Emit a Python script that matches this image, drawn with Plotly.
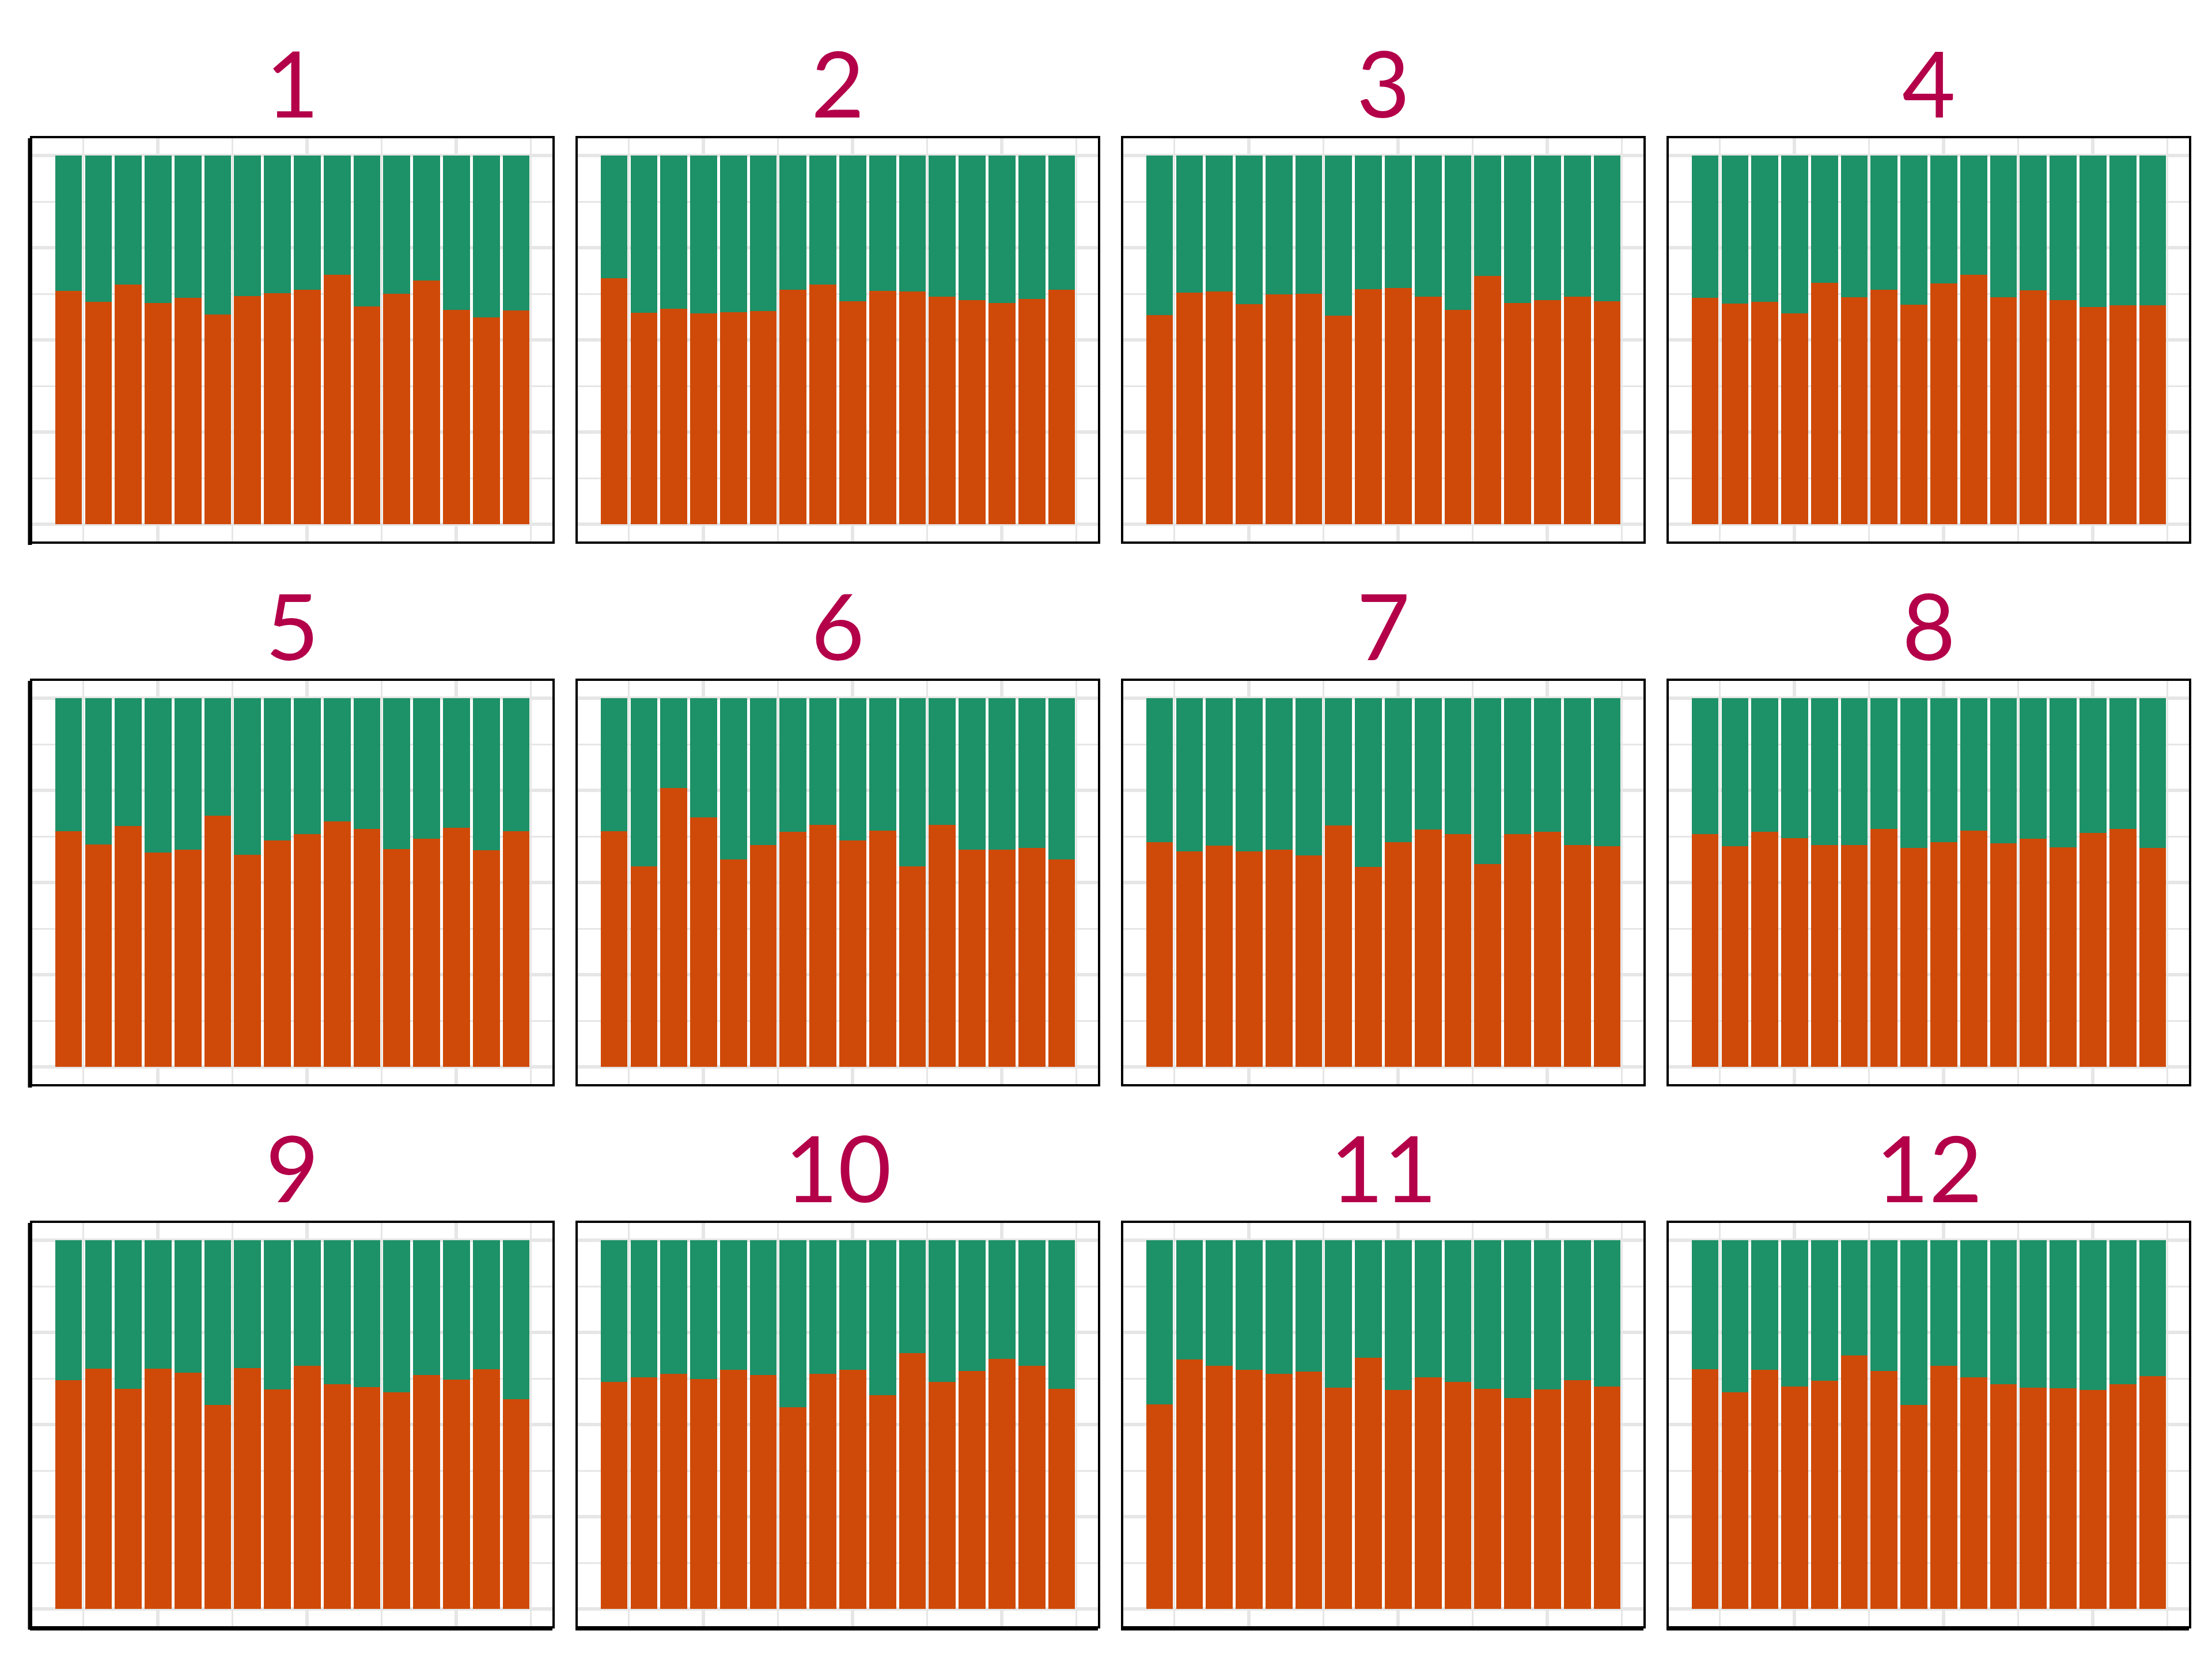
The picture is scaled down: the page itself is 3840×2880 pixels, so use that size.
import plotly.graph_objects as go

# ---------------- data ----------------
years = list(range(2002, 2018))
panel_titles = ["1", "2", "3", "4", "5", "6", "7", "8", "9", "10", "11", "12"]

share_1 = [0.633, 0.603, 0.650, 0.600, 0.614, 0.569, 0.619, 0.626, 0.636, 0.676, 0.591, 0.625, 0.661, 0.581, 0.561, 0.579]
share_2 = [0.667, 0.573, 0.585, 0.572, 0.575, 0.578, 0.636, 0.650, 0.604, 0.633, 0.632, 0.617, 0.608, 0.600, 0.611, 0.636]
share_3 = [0.567, 0.628, 0.632, 0.597, 0.623, 0.625, 0.566, 0.638, 0.641, 0.617, 0.582, 0.673, 0.600, 0.608, 0.617, 0.604]
share_4 = [0.614, 0.598, 0.603, 0.572, 0.654, 0.616, 0.636, 0.595, 0.653, 0.676, 0.616, 0.635, 0.608, 0.589, 0.594, 0.594]
share_5 = [0.639, 0.603, 0.653, 0.581, 0.589, 0.682, 0.575, 0.614, 0.631, 0.666, 0.645, 0.591, 0.619, 0.648, 0.588, 0.639]
share_6 = [0.639, 0.544, 0.757, 0.676, 0.563, 0.601, 0.638, 0.656, 0.614, 0.641, 0.544, 0.656, 0.589, 0.589, 0.594, 0.563]
share_7 = [0.609, 0.584, 0.600, 0.584, 0.589, 0.573, 0.654, 0.542, 0.609, 0.644, 0.631, 0.550, 0.631, 0.638, 0.601, 0.598]
share_8 = [0.632, 0.598, 0.638, 0.620, 0.601, 0.601, 0.645, 0.594, 0.609, 0.641, 0.606, 0.619, 0.595, 0.634, 0.645, 0.594]
share_9 = [0.621, 0.652, 0.597, 0.652, 0.641, 0.553, 0.653, 0.596, 0.659, 0.610, 0.602, 0.587, 0.634, 0.622, 0.650, 0.569]
share_10 = [0.615, 0.628, 0.637, 0.624, 0.649, 0.635, 0.547, 0.638, 0.649, 0.580, 0.693, 0.615, 0.646, 0.678, 0.659, 0.597]
share_11 = [0.555, 0.677, 0.659, 0.649, 0.637, 0.644, 0.600, 0.681, 0.594, 0.628, 0.616, 0.597, 0.572, 0.596, 0.621, 0.603]
share_12 = [0.650, 0.588, 0.649, 0.603, 0.619, 0.687, 0.646, 0.553, 0.659, 0.628, 0.609, 0.600, 0.599, 0.593, 0.610, 0.632]

panel_shares = [share_1, share_2, share_3, share_4, share_5, share_6,
                share_7, share_8, share_9, share_10, share_11, share_12]

# ---------------- style ----------------
W, H = 3840, 2880
ORANGE = "#CF4A08"
GREEN = "#1D9167"
TITLE_COLOR = "#B30049"
GRID = "#E6E6E6"

INSET = 2  # px, borders are drawn outside the domain in plotly
col_left = [54, 1001, 1948, 2895]
panel_w = 907
row_top = [238, 1180, 2121]
panel_h = 704

px_per_x = panel_w / (2018.255 - 2000.745)
px_per_y = panel_h / 1.1
x_range = [2000.745 + INSET / px_per_x, 2018.255 - INSET / px_per_x]
y_range = [-0.05 + INSET / px_per_y, 1.05 - INSET / px_per_y]

fig = go.Figure()

for i, shares in enumerate(panel_shares):
    r, c = divmod(i, 4)
    ax = "" if i == 0 else str(i + 1)
    xa, ya = "x" + ax, "y" + ax
    rest = [1 - s for s in shares]
    fig.add_trace(go.Bar(x=years, y=shares, width=0.9, marker=dict(color=ORANGE, line=dict(width=0)),
                         xaxis=xa, yaxis=ya, showlegend=False, hoverinfo="skip"))
    fig.add_trace(go.Bar(x=years, y=rest, width=0.9, marker=dict(color=GREEN, line=dict(width=0)),
                         xaxis=xa, yaxis=ya, showlegend=False, hoverinfo="skip"))

    x0 = (col_left[c] + INSET) / W
    x1 = (col_left[c] + panel_w - INSET) / W
    y1 = 1 - (row_top[r] + INSET) / H
    y0 = 1 - (row_top[r] + panel_h - INSET) / H

    common = dict(showline=True, linecolor="black", linewidth=3.5, mirror=True,
                  showticklabels=False, ticks="", zeroline=False,
                  showgrid=True, gridcolor=GRID, gridwidth=6, fixedrange=True)
    fig.update_layout(**{
        "xaxis" + ax: dict(domain=[x0, x1], range=x_range, anchor=ya,
                           tick0=2005, dtick=5,
                           minor=dict(tick0=2002.5, dtick=5, showgrid=True, gridcolor=GRID, gridwidth=3, ticks=""),
                           **common),
        "yaxis" + ax: dict(domain=[y0, y1], range=y_range, anchor=xa,
                           tick0=0, dtick=0.25,
                           minor=dict(tick0=0, dtick=0.125, showgrid=True, gridcolor=GRID, gridwidth=3, ticks=""),
                           **common),
    })

    # panel title
    fig.add_annotation(text=panel_titles[i], xref="paper", yref="paper",
                       x=(x0 + x1) / 2, y=1 - (row_top[r] - 96) / H,
                       xanchor="center", yanchor="middle", showarrow=False,
                       font=dict(family="Lato", size=160, color=TITLE_COLOR))

    # heavier axis lines on the outer edges
    if c == 0:
        fig.add_shape(type="line", xref="paper", yref="paper",
                      x0=x0 - 4 / W, x1=x0 - 4 / W, y0=y0 - 6 / H, y1=y1,
                      line=dict(color="black", width=7))
    if r == 2:
        fig.add_shape(type="line", xref="paper", yref="paper",
                      x0=x0 - 4 / W, x1=x1, y0=y0 - 4 / H, y1=y0 - 4 / H,
                      line=dict(color="black", width=7))

fig.update_layout(width=W, height=H, margin=dict(l=0, r=0, t=0, b=0),
                  barmode="stack", bargap=0, plot_bgcolor="white", paper_bgcolor="white",
                  showlegend=False)

fig.write_html("out.html")
